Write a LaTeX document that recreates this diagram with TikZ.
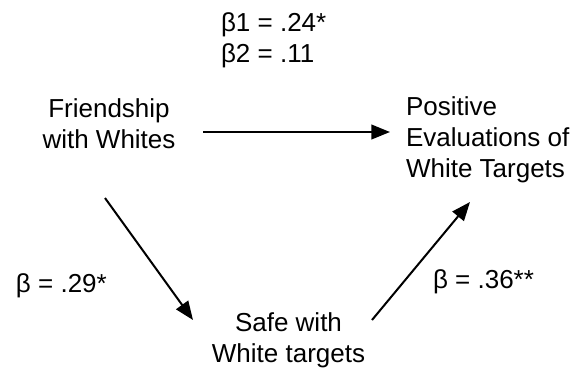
\documentclass[tikz,border=0pt]{standalone}
\usepackage{fontspec}
\setmainfont{Liberation Sans}
\usetikzlibrary{arrows.meta}
\begin{document}
\begin{tikzpicture}[x=0.75pt,y=-0.75pt,
  lbl/.style={font=\fontsize{19.5}{23.25}\selectfont, inner sep=0pt, outer sep=0pt},
  arr/.style={line width=1.5pt, -{Triangle[length=14pt,width=11pt]}}]
\useasboundingbox (0,0) rectangle (578,372);
\node[lbl, align=left, anchor=north west] (b12) at (221,13) {β1 = .24*\\β2 = .11};
\node[lbl, align=center, anchor=north] (friend) at (109,99) {Friendship\\with Whites};
\node[lbl, align=left, anchor=north west] (pos) at (406,97) {Positive\\Evaluations of\\White Targets};
\node[lbl, align=center, anchor=north] (safe) at (288.5,313) {Safe with\\White targets};
\node[lbl, anchor=base west] (b29) at (16,292) {β = .29*};
\node[lbl, anchor=base west] (b36) at (433,288) {β = .36**};
\coordinate (h1) at (203,132);
\coordinate (h2) at (390,132);
\coordinate (d1) at (105,198);
\coordinate (d2) at (193,320);
\coordinate (u1) at (372,320);
\coordinate (u2) at (470,202);
\draw[arr] (h1) -- (h2);
\draw[arr] (d1) -- (d2);
\draw[arr] (u1) -- (u2);
\end{tikzpicture}
\end{document}
